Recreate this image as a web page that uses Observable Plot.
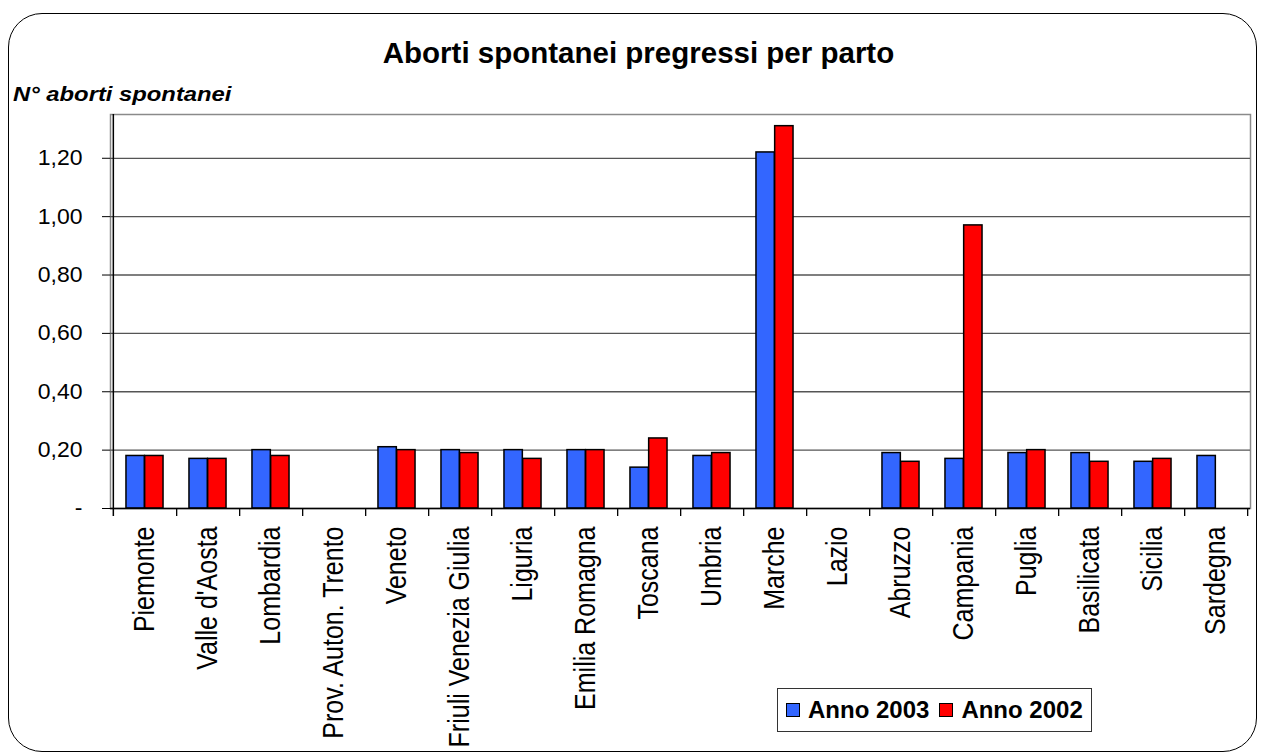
<!DOCTYPE html>
<html>
<head>
<meta charset="utf-8">
<script src="https://cdn.jsdelivr.net/npm/d3@7"></script>
<script src="https://cdn.jsdelivr.net/npm/@observablehq/plot@0.6"></script>
<style>
  html, body { margin: 0; padding: 0; background: #fff; }
  body { font-family: Arial, "Liberation Sans", sans-serif; }
  #wrap { position: relative; width: 1262px; height: 756px; overflow: hidden; }
  #border { position: absolute; left: 8px; top: 13px; width: 1249px; height: 739px;
            border: 1.5px solid #000; border-radius: 34px; box-sizing: border-box; }
  #title { position: absolute; left: 0; width: 1277px; top: 36px; text-align: center;
           font-weight: bold; font-size: 29.5px; color: #000; }
  #ylabel { position: absolute; left: 13px; top: 83px; font-weight: bold; font-style: italic;
            font-size: 20px; color: #000; transform-origin: left top; transform: scaleX(1.19); white-space: nowrap; }
  #chart { position: absolute; left: 0; top: 0; }
  #legend { position: absolute; left: 777px; top: 688px; width: 315px; height: 44px; box-sizing: border-box;
            border: 1.5px solid #333; display: flex; align-items: center; padding-left: 8px;
            font-weight: bold; font-size: 24px; color: #000; white-space: nowrap; }
  .sw { display: inline-block; width: 14px; height: 14px; border: 1.5px solid #000; margin-right: 8px; box-sizing: border-box; }
  .item { display: flex; align-items: center; margin-right: 10px; }
</style>
</head>
<body>
<div id="wrap">
  <div id="border"></div>
  <div id="title">Aborti spontanei pregressi per parto</div>
  <div id="ylabel">N° aborti spontanei</div>
  <div id="chart"></div>
  <div id="legend"></div>
</div>
<script>
const regions = ["Piemonte", "Valle d'Aosta", "Lombardia", "Prov. Auton. Trento", "Veneto",
  "Friuli Venezia Giulia", "Liguria", "Emilia Romagna", "Toscana", "Umbria", "Marche", "Lazio",
  "Abruzzo", "Campania", "Puglia", "Basilicata", "Sicilia", "Sardegna"];
const anno2003 = [0.18, 0.17, 0.20, null, 0.21, 0.20, 0.20, 0.20, 0.14, 0.18, 1.22, null,
  0.19, 0.17, 0.19, 0.19, 0.16, 0.18];
const anno2002 = [0.18, 0.17, 0.18, null, 0.20, 0.19, 0.17, 0.20, 0.24, 0.19, 1.31, null,
  0.16, 0.97, 0.20, 0.16, 0.17, null];
const seriesNames = ["Anno 2003", "Anno 2002"];
const seriesColors = ["#3366FF", "#FF0000"];
const yTicks = [0, 0.2, 0.4, 0.6, 0.8, 1.0, 1.2];
const yMax = 1.35;

const W = 1262, H = 756;
const mL = 110, mR = 12, mT = 114, mB = 248;
const band = (W - mL - mR) / regions.length;
const barW = 18.7;

const d2003 = regions.map((r, i) => ({region: r, value: anno2003[i]})).filter(d => d.value != null);
const d2002 = regions.map((r, i) => ({region: r, value: anno2002[i]})).filter(d => d.value != null);
const bounds = regions.map(r => ({region: r}));

const fmt = d => d === 0 ? "-" : d.toFixed(2).replace(".", ",");

const chart = Plot.plot({
  width: W, height: H,
  marginLeft: mL, marginRight: mR, marginTop: mT, marginBottom: mB,
  style: {fontFamily: "Arial, 'Liberation Sans', sans-serif", color: "#000", background: "transparent", overflow: "visible"},
  x: {type: "band", domain: regions, padding: 0, label: null},
  y: {domain: [0, yMax], label: null},
  marks: [
    Plot.frame({stroke: "#8a8a8a", strokeWidth: 1.5}),
    Plot.ruleY(yTicks.filter(d => d > 0), {stroke: "#555", strokeWidth: 1.3}),
    Plot.barY(d2003, {x: "region", y: "value", fill: seriesColors[0], stroke: "#000", strokeWidth: 1.5,
      insetLeft: band / 2 - barW, insetRight: band / 2}),
    Plot.barY(d2002, {x: "region", y: "value", fill: seriesColors[1], stroke: "#000", strokeWidth: 1.5,
      insetLeft: band / 2, insetRight: band / 2 - barW}),
    Plot.ruleY([0], {stroke: "#000", strokeWidth: 1.5}),
    Plot.ruleX([{region: regions[0]}], {x: "region", dx: -band / 2, y1: () => yMax, y2: () => 0,
      insetBottom: -8, stroke: "#000", strokeWidth: 1.5}),
    Plot.ruleX(bounds, {x: "region", dx: band / 2, y1: () => 0, y2: () => 0,
      insetBottom: -8, stroke: "#000", strokeWidth: 1.3}),
    Plot.axisY({ticks: yTicks, tickFormat: fmt, tickSize: 8, tickPadding: 20, fontSize: 21.5, label: null}),
    Plot.axisX({tickSize: 0, tickRotate: -90, tickPadding: 18, fontSize: 25, label: null})
  ]
});
document.getElementById("chart").appendChild(chart);

// the reference's lettering is slightly wider than tall: stretch the tick labels a little
d3.select(chart).selectAll('g[aria-label="x-axis tick label"] text').each(function() {
  const t = this.getAttribute("transform") || "";
  this.setAttribute("transform", t + " scale(1,1.15)");
});
d3.select(chart).selectAll('g[aria-label="y-axis tick label"] text').each(function() {
  const t = this.getAttribute("transform") || "";
  this.setAttribute("transform", t + " scale(1.07,1)");
});

const legend = document.getElementById("legend");
seriesNames.forEach((name, i) => {
  const item = document.createElement("span");
  item.className = "item";
  const sw = document.createElement("span");
  sw.className = "sw";
  sw.style.background = seriesColors[i];
  item.appendChild(sw);
  item.appendChild(document.createTextNode(name));
  legend.appendChild(item);
});
</script>
</body>
</html>
